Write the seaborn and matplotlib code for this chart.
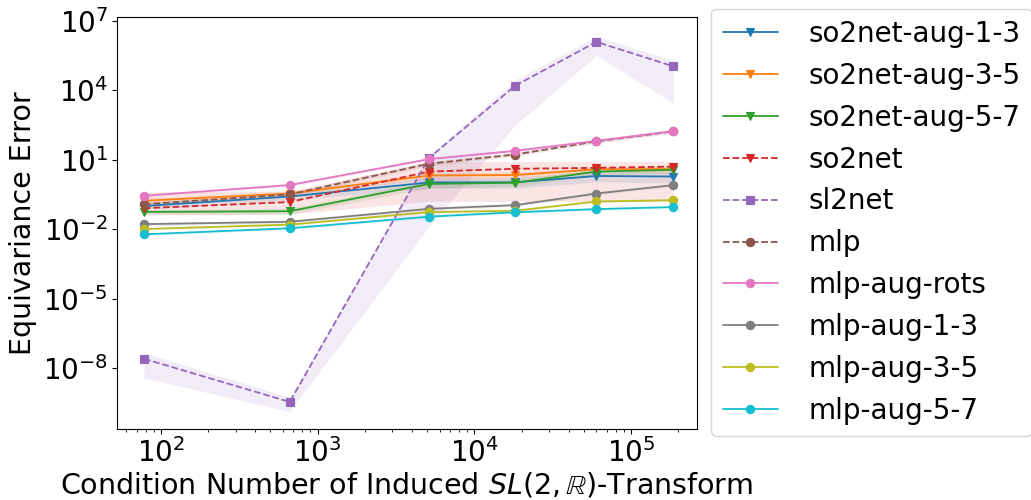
import numpy as np
import pandas as pd
import matplotlib
matplotlib.use("Agg")
import matplotlib.pyplot as plt
import seaborn as sns
from matplotlib.ticker import NullLocator

# condition numbers of the induced SL(2,R) transforms
cond = [78, 664, 5130, 18200, 60000, 186000]

labels = ["so2net-aug-1-3", "so2net-aug-3-5", "so2net-aug-5-7", "so2net", "sl2net",
          "mlp", "mlp-aug-rots", "mlp-aug-1-3", "mlp-aug-3-5", "mlp-aug-5-7"]

so2_13 = [0.10, 0.26, 1.05, 1.07, 2.0, 1.9]
so2_13_lo = [0.07, 0.18, 0.6, 0.6, 1.1, 1.0]
so2_13_hi = [0.14, 0.36, 1.7, 1.7, 3.2, 3.0]

so2_35 = [0.17, 0.35, 2.1, 2.2, 3.9, 4.0]
so2_35_lo = [0.13, 0.28, 1.5, 1.6, 3.0, 3.0]
so2_35_hi = [0.22, 0.45, 2.8, 2.9, 5.0, 5.2]

so2_57 = [0.056, 0.060, 0.91, 1.02, 3.1, 3.7]
so2_57_lo = [0.045, 0.045, 0.6, 0.7, 2.2, 2.6]
so2_57_hi = [0.07, 0.08, 1.3, 1.4, 4.2, 5.0]

so2 = [0.081, 0.15, 3.1, 4.1, 4.5, 5.1]
so2_lo = [0.041, 0.045, 0.16, 0.16, 0.16, 0.16]
so2_hi = [0.40, 0.45, 8.5, 8.5, 8.5, 8.5]

sl2 = [2.5e-8, 3.4e-10, 12, 1.6e4, 1.26e6, 1.1e5]
sl2_lo = [3.7e-9, 1.3e-10, 0.013, 316, 3.2e5, 2.9e3]
sl2_hi = [4.5e-8, 5.5e-10, 15, 2.8e4, 2.2e6, 2.0e5]

mlp = [0.12, 0.32, 6.8, 17, 63, 170]
mlp_lo = [0.10, 0.27, 5.5, 14, 52, 140]
mlp_hi = [0.15, 0.38, 8.5, 21, 78, 210]

mlp_rots = [0.28, 0.81, 10.7, 24.5, 66, 174]
mlp_rots_lo = [0.24, 0.70, 9.0, 21, 56, 150]
mlp_rots_hi = [0.33, 0.95, 12.5, 29, 78, 205]

mlp_13 = [0.0166, 0.021, 0.076, 0.11, 0.35, 0.81]
mlp_13_lo = [0.014, 0.018, 0.065, 0.094, 0.30, 0.70]
mlp_13_hi = [0.019, 0.025, 0.09, 0.13, 0.41, 0.95]

mlp_35 = [0.0102, 0.0158, 0.055, 0.063, 0.158, 0.18]
mlp_35_lo = [0.009, 0.014, 0.048, 0.055, 0.14, 0.16]
mlp_35_hi = [0.0116, 0.018, 0.063, 0.072, 0.18, 0.205]

mlp_57 = [0.006, 0.011, 0.035, 0.054, 0.074, 0.091]
mlp_57_lo = [0.0053, 0.0097, 0.031, 0.048, 0.066, 0.081]
mlp_57_hi = [0.0068, 0.0125, 0.040, 0.061, 0.083, 0.102]

means = [so2_13, so2_35, so2_57, so2, sl2, mlp, mlp_rots, mlp_13, mlp_35, mlp_57]
lows = [so2_13_lo, so2_35_lo, so2_57_lo, so2_lo, sl2_lo, mlp_lo, mlp_rots_lo, mlp_13_lo, mlp_35_lo, mlp_57_lo]
highs = [so2_13_hi, so2_35_hi, so2_57_hi, so2_hi, sl2_hi, mlp_hi, mlp_rots_hi, mlp_13_hi, mlp_35_hi, mlp_57_hi]

markers = ["v", "v", "v", "v", "s", "o", "o", "o", "o", "o"]
linestyles = ["-", "-", "-", "--", "--", "--", "-", "-", "-", "-"]

sns.set_style("ticks")
plt.rcParams.update({
    "font.family": "DejaVu Sans",
    "mathtext.fontset": "dejavusans",
    "font.size": 20,
    "text.color": "black",
    "axes.labelcolor": "black",
    "axes.edgecolor": "black",
    "xtick.color": "black",
    "ytick.color": "black",
    "xtick.major.size": 3.5,
    "ytick.major.size": 3.5,
    "xtick.minor.size": 2,
    "xtick.major.pad": 3.0,
    "ytick.major.pad": 3.0,
})

palette = sns.color_palette("tab10", 10)

fig = plt.figure(figsize=(10.31, 5.0), dpi=100)
ax = fig.add_axes([0.1135, 0.142, 0.5625, 0.824])

for i, name in enumerate(labels):
    df = pd.DataFrame({"cond": cond, "err": means[i]})
    c = palette[i]
    ax.fill_between(cond, lows[i], highs[i], color=c, alpha=0.12, linewidth=0)
    sns.lineplot(data=df, x="cond", y="err", ax=ax, color=c, marker=markers[i],
                 linestyle=linestyles[i], markersize=6, markeredgecolor=c,
                 markeredgewidth=0.8, linewidth=1.3, label=name)

ax.set_xscale("log")
ax.set_yscale("log")
ax.set_xlim(52.5, 2.63e5)
ax.set_ylim(2.3e-11, 1.5e7)
ax.set_yticks([1e-8, 1e-5, 1e-2, 1e1, 1e4, 1e7])
ax.yaxis.set_minor_locator(NullLocator())
ax.tick_params(labelsize=20)

ax.set_xlabel(r"Condition Number of Induced $SL(2,\mathbb{R})$-Transform", fontsize=20.5, labelpad=2)
ax.set_ylabel("Equivariance Error", fontsize=20.5)

leg = ax.legend(loc="upper left", bbox_to_anchor=(1.025, 1.02), fontsize=20,
                frameon=True, borderaxespad=0.0, handletextpad=1.1)
for t in leg.get_texts():
    t.set_color("black")

fig.savefig("out.png", dpi=100)
